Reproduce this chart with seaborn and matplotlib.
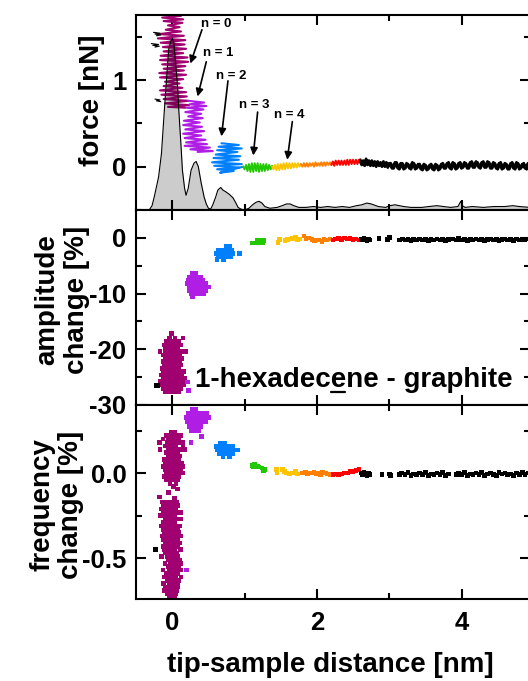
import numpy as np
import pandas as pd
import matplotlib
matplotlib.use('Agg')
import matplotlib.pyplot as plt
import seaborn as sns
from matplotlib.lines import Line2D
from matplotlib.ticker import FixedLocator

# ------------------------------------------------------------------ data
# force curve pieces (distance nm, force nN) – noisy traces
force_n0 = [(-0.10,1.76),(0.12,1.74),(-0.14,1.72),(0.15,1.70),(-0.12,1.68),(0.14,1.66),(-0.06,1.63),(0.10,1.61),
            (-0.09,1.58),(0.12,1.56),(-0.18,1.53),(0.16,1.51),(-0.20,1.48),(0.18,1.46),(-0.16,1.43),(0.17,1.41),
            (-0.13,1.38),(0.19,1.36),(-0.12,1.33),(0.15,1.31),(-0.16,1.28),(0.21,1.26),(-0.17,1.23),(0.22,1.21),
            (-0.14,1.18),(0.18,1.16),(-0.12,1.13),(0.16,1.11),(-0.18,1.08),(0.19,1.06),(-0.17,1.03),(0.15,1.01),
            (-0.10,0.98),(0.10,0.96),(-0.12,0.93),(0.14,0.91),(-0.17,0.88),(0.19,0.86),(-0.15,0.83),(0.20,0.81),
            (-0.12,0.78),(0.22,0.76),(-0.10,0.73),(0.23,0.71),(-0.06,0.69),(0.18,0.68)]
force_n1 = [(0.22,0.76),(0.44,0.74),(0.24,0.72),(0.47,0.70),(0.20,0.68),(0.43,0.66),(0.18,0.63),(0.40,0.61),
            (0.22,0.58),(0.42,0.56),(0.16,0.53),(0.38,0.51),(0.15,0.48),(0.41,0.46),(0.18,0.43),(0.44,0.41),
            (0.15,0.38),(0.40,0.36),(0.17,0.33),(0.46,0.31),(0.19,0.28),(0.48,0.26),(0.17,0.24),(0.52,0.22),
            (0.25,0.20),(0.56,0.18),(0.35,0.17)]
force_n2 = [(0.68,0.27),(0.92,0.25),(0.64,0.23),(0.96,0.21),(0.62,0.19),(0.90,0.17),(0.60,0.14),(0.94,0.12),
            (0.57,0.10),(0.92,0.08),(0.55,0.05),(0.96,0.03),(0.58,0.01),(0.92,-0.01),(0.62,-0.03),(0.85,-0.05),
            (0.66,-0.07),(0.98,0.00)]
force_n3 = [(0.98,0.00),(1.00,-0.03),(1.02,0.02),(1.04,-0.05),(1.06,0.03),(1.08,-0.06),(1.10,0.04),(1.12,-0.06),
            (1.14,0.04),(1.16,-0.05),(1.18,0.04),(1.20,-0.06),(1.22,0.03),(1.24,-0.05),(1.26,0.03),(1.28,-0.05),
            (1.30,0.03),(1.32,-0.04),(1.34,0.02),(1.36,-0.03),(1.38,0.01)]
force_n4 = [(1.38,0.00),(1.40,-0.03),(1.42,0.02),(1.44,-0.04),(1.46,0.03),(1.48,-0.04),(1.50,0.03),(1.52,-0.03),
            (1.54,0.04),(1.56,-0.03),(1.58,0.04),(1.60,-0.02),(1.62,0.04),(1.64,-0.02),(1.66,0.04),(1.68,-0.01),
            (1.70,0.04),(1.72,-0.01),(1.74,0.04),(1.76,0.00),(1.78,0.03)]
force_n5 = [(1.78,0.03),(1.80,0.00),(1.82,0.04),(1.84,0.00),(1.86,0.04),(1.88,0.00),(1.90,0.04),(1.92,0.01),
            (1.94,0.04),(1.96,0.00),(1.98,0.05),(2.00,0.01),(2.02,0.04),(2.04,0.01),(2.06,0.05),(2.08,0.01),
            (2.10,0.05),(2.12,0.01),(2.14,0.05),(2.16,0.02),(2.18,0.05),(2.20,0.02)]
force_n6 = [(2.20,0.02),(2.22,0.06),(2.24,0.01),(2.26,0.07),(2.28,0.02),(2.30,0.07),(2.32,0.02),(2.34,0.07),
            (2.36,0.02),(2.38,0.07),(2.40,0.02),(2.42,0.08),(2.44,0.02),(2.46,0.08),(2.48,0.03),(2.50,0.08),
            (2.52,0.03),(2.54,0.08),(2.56,0.03),(2.58,0.08),(2.60,0.04)]
force_far = [(2.60,0.08),(2.62,0.02),(2.64,0.07),(2.66,0.01),(2.68,0.09),(2.70,0.02),(2.72,0.07),(2.74,0.01),
             (2.76,0.07),(2.78,0.01),(2.80,0.06),(2.82,0.00),(2.84,0.06),(2.86,0.01),(2.88,0.05),(2.90,0.00),
             (2.92,0.06),(2.94,0.00),(2.96,0.05),(2.98,-0.01),(3.00,0.04),(3.04,-0.02),(3.08,0.05),(3.12,-0.02),
             (3.16,0.04),(3.20,-0.03),(3.24,0.04),(3.28,-0.02),(3.32,0.05),(3.36,-0.03),(3.40,0.03),(3.44,-0.03),
             (3.48,0.03),(3.52,-0.04),(3.56,0.02),(3.60,-0.03),(3.64,0.03),(3.68,-0.04),(3.72,0.03),(3.76,-0.02),
             (3.80,0.04),(3.84,-0.02),(3.88,0.05),(3.92,-0.03),(3.96,0.04),(4.00,-0.02),(4.04,0.05),(4.08,-0.02),
             (4.12,0.05),(4.16,-0.01),(4.20,0.06),(4.24,-0.01),(4.28,0.05),(4.32,-0.01),(4.36,0.06),(4.40,-0.02),
             (4.44,0.05),(4.48,-0.02),(4.52,0.04),(4.56,-0.03),(4.60,0.04),(4.64,-0.03),(4.68,0.04),(4.72,-0.02),
             (4.76,0.05),(4.80,-0.03),(4.84,0.03),(4.88,-0.02),(4.92,0.04)]
force_far_b = [(3.02,0.04),(3.06,-0.02),(3.10,0.05),(3.14,-0.03),(3.18,0.04),(3.22,-0.02),(3.26,0.03),(3.30,-0.03),
               (3.34,0.04),(3.38,-0.02),(3.42,0.03),(3.46,-0.04),(3.50,0.02),(3.54,-0.03),(3.58,0.03),(3.62,-0.04),
               (3.66,0.02),(3.70,-0.03),(3.74,0.04),(3.78,-0.02),(3.82,0.05),(3.86,-0.03),(3.90,0.04),(3.94,-0.02),
               (3.98,0.05),(4.02,-0.01),(4.06,0.04),(4.10,-0.02),(4.14,0.06),(4.18,-0.01),(4.22,0.05),(4.26,-0.02),
               (4.30,0.06),(4.34,-0.01),(4.38,0.05),(4.42,-0.02),(4.46,0.04),(4.50,-0.03),(4.54,0.05),(4.58,-0.02),
               (4.62,0.03),(4.66,-0.03),(4.70,0.05),(4.74,-0.03),(4.78,0.04),(4.82,-0.02),(4.86,0.04),(4.90,-0.03),
               (4.94,0.03)]
force_left_bits = [[(-0.26,1.55),(-0.17,1.54),(-0.24,1.53),(-0.16,1.52),(-0.22,1.51)],
                   [(-0.29,1.42),(-0.19,1.41),(-0.27,1.40),(-0.18,1.39),(-0.24,1.38)],
                   [(-0.24,0.78),(-0.17,0.77),(-0.22,0.76),(-0.16,0.75)]]

# force-distribution envelope (grey, in force-axis units)
dist_curve = [(-0.50,-0.50),(-0.32,-0.50),(-0.28,-0.45),(-0.25,-0.35),(-0.19,-0.12),(-0.15,0.15),(-0.11,0.65),
              (-0.08,1.00),(-0.05,1.35),(-0.02,1.45),(0.00,1.48),(0.02,1.44),(0.04,1.25),(0.07,0.95),(0.09,0.65),
              (0.12,0.25),(0.14,-0.04),(0.17,-0.25),(0.19,-0.33),(0.22,-0.25),(0.26,-0.04),(0.30,0.04),(0.33,0.06),
              (0.36,0.00),(0.40,-0.19),(0.44,-0.35),(0.47,-0.43),(0.50,-0.48),(0.53,-0.49),(0.56,-0.44),(0.60,-0.35),
              (0.63,-0.27),(0.67,-0.24),(0.70,-0.27),(0.74,-0.29),(0.79,-0.32),(0.84,-0.36),(0.88,-0.42),(0.91,-0.47),
              (0.95,-0.49),(1.00,-0.50),(1.06,-0.48),(1.11,-0.44),(1.16,-0.41),(1.20,-0.40),(1.24,-0.42),(1.28,-0.46),
              (1.35,-0.48),(1.45,-0.47),(1.52,-0.45),(1.58,-0.43),(1.63,-0.43),(1.68,-0.45),(1.75,-0.47),(1.85,-0.47),
              (1.95,-0.46),(2.05,-0.47),(2.15,-0.46),(2.25,-0.47),(2.35,-0.46),(2.45,-0.47),(2.55,-0.45),(2.62,-0.44),
              (2.69,-0.42),(2.75,-0.43),(2.85,-0.46),(2.95,-0.47),(3.01,-0.45),(3.08,-0.44),(3.20,-0.46),(3.30,-0.47),
              (3.45,-0.47),(3.55,-0.46),(3.66,-0.45),(3.75,-0.46),(3.85,-0.47),(3.95,-0.46),(3.99,-0.40),(4.01,-0.45),
              (4.05,-0.47),(4.15,-0.46),(4.30,-0.47),(4.45,-0.46),(4.60,-0.46),(4.71,-0.45),(4.80,-0.46),(4.95,-0.47)]

# amplitude change [%] clouds; rows of (y, [x...])
amp_n0 = [(-17.2,[-0.01]),(-18.0,[-0.04,0.04,0.15]),(-18.6,[-0.08,-0.02,0.03,0.09]),
          (-19.2,[-0.11,-0.05,0.01,0.06,0.12]),(-19.8,[-0.09,-0.03,0.03,0.08]),
          (-20.4,[-0.17,-0.10,-0.04,0.02,0.07,0.11,0.18]),(-21.0,[-0.12,-0.06,0.00,0.05,0.10]),
          (-21.6,[-0.10,-0.04,0.02,0.08,0.13]),(-22.2,[-0.13,-0.07,-0.01,0.05,0.10]),
          (-22.8,[-0.11,-0.05,0.01,0.07,0.12]),(-23.4,[-0.14,-0.08,-0.02,0.04,0.09]),
          (-24.0,[-0.12,-0.06,0.00,0.06,0.11,0.16]),(-24.6,[-0.15,-0.09,-0.03,0.03,0.08,0.13]),
          (-25.2,[-0.13,-0.07,-0.01,0.05,0.10,0.17]),(-25.8,[-0.16,-0.10,-0.04,0.02,0.08,0.14]),
          (-26.4,[-0.14,-0.08,-0.02,0.04,0.10,0.16]),(-27.0,[-0.12,-0.06,0.00,0.06,0.12]),
          (-27.6,[-0.09,-0.03,0.03,0.09])]
amp_n1 = [(-6.4,[0.28,0.33]),(-7.0,[0.24,0.29,0.35,0.39]),(-7.6,[0.22,0.27,0.32,0.37,0.42]),
          (-8.2,[0.21,0.26,0.31,0.36,0.41,0.46]),(-8.8,[0.23,0.28,0.33,0.38,0.44,0.50]),
          (-9.4,[0.24,0.29,0.34,0.40,0.46]),(-10.0,[0.26,0.31,0.38,0.44]),(-10.5,[0.28]),
          (-25.9,[0.21]),(-27.4,[0.22])]
amp_n2 = [(-1.6,[0.74,0.80]),(-2.2,[0.64,0.70,0.76,0.82]),(-2.8,[0.61,0.67,0.73,0.79,0.84,0.93]),
          (-3.4,[0.63,0.69,0.75,0.81]),(-3.9,[0.62,0.71])]
amp_n3 = [(-0.5,[1.18,1.23,1.27]),(-0.9,[1.10,1.15,1.20,1.25])]
amp_n4 = [(-0.8,[1.46]),(-0.3,[1.48,1.59,1.73]),(-0.5,[1.56]),(-0.2,[1.63,1.76]),(-0.1,[1.66]),(0.1,[1.70])]
amp_n5 = [(0.3,[1.82]),(-0.1,[1.85]),(0.0,[1.88]),(-0.3,[1.93,2.10]),(-0.5,[1.97]),(-0.4,[2.02,2.14]),
          (-0.6,[2.07]),(-0.2,[2.18])]
amp_n6 = [(-0.4,[2.22,2.58]),(-0.2,[2.26,2.42,2.54]),(-0.1,[2.30,2.46]),(-0.3,[2.34,2.50]),(0.0,[2.38])]
amp_far = [(-0.2,[2.61,2.71,3.18,3.42,3.66,3.88,4.20,4.40,4.60,4.76,4.92]),
           (-0.4,[2.63,2.73,3.14,3.22,3.38,3.46,3.62,3.70,3.93,4.00,4.16,4.24,4.44,4.64,4.80,4.88]),
           (-0.1,[2.65,2.86,3.96]),(-0.3,[2.67,2.98,3.26,3.34,3.50,3.58,3.74,3.82,4.04,4.12,4.28,4.36,4.48,4.56,4.68,4.84]),
           (-0.5,[2.69,3.30,3.54,3.78,4.08,4.32,4.52,4.72]),(0.1,[3.00]),(-26.5,[-0.22,-0.20])]

# frequency change [%] clouds; rows of (y, [x...])
frq_n0 = [(0.24,[-0.02,0.04]),(0.22,[-0.08,-0.03,0.02,0.07,0.11]),(0.20,[-0.13,-0.06,-0.01,0.04,0.09]),
          (0.18,[-0.18,-0.07,-0.02,0.03,0.08,0.14]),(0.16,[-0.10,-0.05,0.00,0.05,0.15]),
          (0.14,[-0.17,-0.06,-0.01,0.04,0.10,0.17]),(0.12,[-0.08,-0.03,0.02,0.07]),
          (0.10,[-0.05,0.00,0.05,0.10]),(0.08,[-0.11,-0.06,-0.01,0.04,0.09]),
          (0.06,[-0.09,-0.04,0.01,0.06,0.13]),(0.04,[-0.12,-0.07,-0.02,0.03,0.08,0.14]),
          (0.02,[-0.10,-0.05,0.00,0.05,0.11]),(0.00,[-0.08,-0.03,0.02,0.07,0.14]),
          (-0.02,[-0.11,-0.06,-0.01,0.04,0.09]),(-0.04,[-0.08,-0.02,0.03,0.07]),
          (-0.06,[-0.03,0.05]),(-0.08,[0.02]),(-0.094,[0.07]),(-0.114,[-0.05]),(-0.14,[-0.18]),(-0.15,[0.03]),
          (-0.17,[-0.14,-0.09,-0.04,0.01,0.06]),(-0.19,[-0.12,-0.07,-0.02,0.03,0.08]),
          (-0.21,[-0.15,-0.10,-0.05,0.00,0.05]),(-0.23,[-0.13,-0.08,-0.03,0.02,0.07,0.11]),
          (-0.25,[-0.16,-0.11,-0.06,-0.01,0.04]),(-0.27,[-0.09,-0.04,0.01,0.06,0.12]),
          (-0.29,[-0.12,-0.07,-0.02,0.03]),(-0.31,[-0.15,-0.10,-0.05,0.00,0.05,0.10]),
          (-0.33,[-0.13,-0.08,-0.03,0.02,0.07]),(-0.35,[-0.11,-0.06,-0.01,0.04,0.09]),
          (-0.37,[-0.14,-0.09,-0.04,0.01,0.06,0.12]),(-0.39,[-0.12,-0.07,-0.02,0.03,0.08]),
          (-0.41,[-0.10,-0.05,0.00,0.05,0.10]),(-0.43,[-0.13,-0.08,-0.03,0.02,0.07]),
          (-0.45,[-0.11,-0.06,-0.01,0.04,0.11]),(-0.47,[-0.09,-0.04,0.01,0.06]),
          (-0.49,[-0.15,-0.07,-0.02,0.03,0.08]),(-0.51,[-0.05,0.00,0.05,0.10]),
          (-0.53,[-0.10,-0.03,0.02,0.07,0.12]),(-0.55,[-0.06,-0.01,0.04,0.09]),
          (-0.57,[-0.13,-0.04,0.01,0.06,0.11]),(-0.59,[-0.08,-0.02,0.03,0.08]),
          (-0.61,[-0.11,-0.05,0.00,0.05,0.12]),(-0.63,[-0.07,-0.01,0.04,0.09]),
          (-0.65,[-0.12,-0.04,0.01,0.07]),(-0.67,[-0.09,-0.03,0.03,0.08]),
          (-0.69,[-0.11,-0.05,0.02,0.06]),(-0.71,[-0.07,0.00,0.05]),(-0.73,[-0.04,0.03])]
frq_n1 = [(0.375,[0.28,0.33]),(0.35,[0.22,0.27,0.32,0.37,0.42,0.47]),(0.325,[0.20,0.25,0.30,0.35,0.40,0.45,0.50]),
          (0.30,[0.21,0.26,0.31,0.36,0.41,0.46]),(0.275,[0.24,0.29,0.34,0.39]),(0.25,[0.26,0.31,0.36]),
          (0.215,[0.40]),(0.18,[0.26]),(-0.57,[0.20])]
frq_n2 = [(0.175,[0.66,0.72]),(0.155,[0.61,0.67,0.73,0.79,0.84]),(0.135,[0.62,0.68,0.74,0.80,0.86,0.91]),
          (0.115,[0.65,0.71,0.77,0.83]),(0.095,[0.70,0.79])]
frq_n3 = [(0.045,[1.10]),(0.05,[1.14]),(0.04,[1.16,1.18]),(0.035,[1.12,1.20]),(0.03,[1.24]),(0.02,[1.28]),(0.015,[1.26])]
frq_n4 = [(0.02,[1.44,1.52]),(0.0,[1.45,1.58,1.66]),(0.01,[1.55,1.70]),(-0.005,[1.62,1.73])]
frq_n5 = [(0.0,[1.80,1.90,2.02,2.12]),(0.005,[1.84,1.96,2.08]),(-0.005,[1.87,1.99,2.15]),(-0.01,[2.05,2.18])]
frq_n6 = [(-0.01,[2.22,2.30]),(-0.005,[2.26,2.34]),(0.0,[2.38,2.42]),(0.01,[2.46,2.50]),(0.015,[2.54]),(0.02,[2.58])]
frq_far = [(0.0,[2.61,2.71,3.17,3.42,3.66,3.96,4.20,4.40,4.60,4.76,4.92]),
           (-0.01,[2.63,2.73,2.90,3.14,3.22,3.38,3.46,3.62,3.70,3.93,4.00,4.16,4.24,4.44,4.64,4.80,4.88]),
           (0.005,[2.65,3.26,3.50,3.74,4.04,4.28,4.52,4.84]),
           (-0.005,[2.67,3.00,3.34,3.58,3.82,4.12,4.36,4.56,4.68]),
           (-0.015,[2.69,3.02,3.30,3.54,3.78,4.08,4.32,4.48,4.72]),(-0.45,[-0.24,-0.23])]

n_labels = ['n = 0', 'n = 1', 'n = 2', 'n = 3', 'n = 4']
n_label_pos = [(0.61, 1.65), (0.64, 1.31), (0.81, 1.05), (1.13, 0.71), (1.62, 0.60)]
n_arrow_from = [(0.41, 1.58), (0.47, 1.21), (0.77, 0.99), (1.18, 0.63), (1.66, 0.52)]
n_arrow_to = [(0.25, 1.19), (0.35, 0.81), (0.68, 0.35), (1.12, 0.13), (1.59, 0.08)]

x_ticks = [0, 2, 4]
force_ticks = [0, 1]
amp_ticks = [0, -10, -20, -30]
frq_ticks = [0.0, -0.5]
frq_tick_labels = ['0.0', '-0.5']

colors = {'n0': '#A00070', 'n1': '#B01EE6', 'n2': '#0080FF', 'n3': '#22C800',
          'n4': '#FFC400', 'n5': '#FF8000', 'n6': '#FF0000', 'far': '#000000'}

# ------------------------------------------------------------------ style
sns.set_style('ticks')
plt.rcParams['font.family'] = ['Liberation Sans', 'DejaVu Sans']
plt.rcParams['font.weight'] = 'bold'
plt.rcParams['axes.unicode_minus'] = False
for k in ('text.color', 'axes.labelcolor', 'xtick.color', 'ytick.color', 'axes.edgecolor'):
    plt.rcParams[k] = 'black'

W, H = 528, 681
fig = plt.figure(figsize=(W / 100, H / 100), dpi=100)


def px_axes(l, t, r, b):
    return fig.add_axes([l / W, 1 - b / H, (r - l) / W, (b - t) / H])


ax1 = px_axes(136, 15, 530, 210)
ax2 = px_axes(136, 210, 530, 405)
ax3 = px_axes(136, 405, 530, 599)


def rows_to_df(rows, key):
    xs, ys = [], []
    for y, xl in rows:
        for x in xl:
            xs.append(x)
            ys.append(y)
    return pd.DataFrame({'x': xs, 'y': ys, 'g': key})


# ---- panel 1: force
line_w = {'n0': 1.5, 'n1': 1.5, 'n2': 1.5, 'n3': 1.4, 'n4': 1.4, 'n5': 1.4, 'n6': 1.4, 'far': 2.0}
for key, seg in [('n0', force_n0), ('n1', force_n1), ('n2', force_n2), ('n3', force_n3),
                 ('n4', force_n4), ('n5', force_n5), ('n6', force_n6), ('far', force_far),
                 ('far', force_far_b)]:
    d = pd.DataFrame(seg, columns=['x', 'y'])
    sns.lineplot(data=d, x='x', y='y', sort=False, estimator=None, color=colors[key], lw=line_w[key], ax=ax1)
for seg in force_left_bits:
    d = pd.DataFrame(seg, columns=['x', 'y'])
    sns.lineplot(data=d, x='x', y='y', sort=False, estimator=None, color='k', lw=0.8, ax=ax1)

dc = pd.DataFrame(dist_curve, columns=['x', 'y'])
ax1.fill_between(dc['x'], -0.5, dc['y'], color='k', alpha=0.2, lw=0, zorder=3)
sns.lineplot(data=dc, x='x', y='y', sort=False, estimator=None, color='k', lw=0.8, ax=ax1, zorder=4)

for lab, lp, a0, a1 in zip(n_labels, n_label_pos, n_arrow_from, n_arrow_to):
    ax1.text(lp[0], lp[1], lab, fontsize=9.5, fontweight='bold', ha='center', va='center', zorder=6)
    ax1.annotate('', xy=a1, xytext=a0,
                 arrowprops=dict(arrowstyle='-|>', color='k', lw=1.2, mutation_scale=11,
                                 shrinkA=0, shrinkB=0), zorder=6)

# ---- panel 2 & 3: scatter clouds
amp_df = pd.concat([rows_to_df(r, k) for k, r in [('n0', amp_n0), ('n1', amp_n1), ('n2', amp_n2), ('n3', amp_n3),
                                                  ('n4', amp_n4), ('n5', amp_n5), ('n6', amp_n6), ('far', amp_far)]])
frq_df = pd.concat([rows_to_df(r, k) for k, r in [('n0', frq_n0), ('n1', frq_n1), ('n2', frq_n2), ('n3', frq_n3),
                                                  ('n4', frq_n4), ('n5', frq_n5), ('n6', frq_n6), ('far', frq_far)]])
sns.scatterplot(data=amp_df, x='x', y='y', hue='g', palette=colors, marker='s', s=11, linewidth=0,
                legend=False, ax=ax2)
sns.scatterplot(data=frq_df, x='x', y='y', hue='g', palette=colors, marker='s', s=11, linewidth=0,
                legend=False, ax=ax3)

# ---- axes styling
for ax in (ax1, ax2, ax3):
    ax.set_xlim(-0.502, 4.947)
    ax.set_xlabel('')
    ax.set_ylabel('')
    ax.xaxis.set_major_locator(FixedLocator(x_ticks))
    ax.xaxis.set_minor_locator(FixedLocator([1, 3]))
    ax.tick_params(which='both', direction='in', top=True, right=True, width=1.5,
                   labelsize=18.5, pad=7, colors='k')
    ax.tick_params(which='major', length=7)
    ax.tick_params(which='minor', length=4)
    for sp in ax.spines.values():
        sp.set_linewidth(1.5)
        sp.set_color('k')
        sp.set_visible(True)
    ax.set_facecolor('white')

ax1.set_ylim(-0.5, 1.75)
ax1.yaxis.set_major_locator(FixedLocator(force_ticks))
ax1.yaxis.set_minor_locator(FixedLocator([-0.5, 0.5, 1.5]))
ax1.set_yticklabels([str(t) for t in force_ticks])

ax2.set_ylim(-30, 5)
ax2.yaxis.set_major_locator(FixedLocator(amp_ticks))
ax2.yaxis.set_minor_locator(FixedLocator([-5, -15, -25]))
ax2.set_yticklabels([str(t) for t in amp_ticks])

ax3.set_ylim(-0.74, 0.40)
ax3.yaxis.set_major_locator(FixedLocator(frq_ticks))
ax3.yaxis.set_minor_locator(FixedLocator([0.25, -0.25]))
ax3.set_yticklabels(frq_tick_labels)

ax1.tick_params(labelbottom=False)
ax2.tick_params(labelbottom=False)
ax3.set_xticklabels([str(t) for t in x_ticks])
ax3.tick_params(axis='x', pad=9)

for ax in (ax1, ax2, ax3):
    for lab in ax.get_xticklabels() + ax.get_yticklabels():
        lab.set_fontweight('bold')
        lab.set_color('black')

# ---- labels
fig.text(92 / W, 1 - 100 / H, 'force [nN]', rotation=90, ha='center', va='center', fontsize=20,
         fontweight='bold', color='black')
fig.text(62 / W, 1 - 300 / H, 'amplitude\nchange [%]', rotation=90, ha='center', va='center',
         fontsize=20, fontweight='bold', linespacing=1.15, color='black')
fig.text(57 / W, 1 - 505 / H, 'frequency\nchange [%]', rotation=90, ha='center', va='center',
         fontsize=20, fontweight='bold', linespacing=1.15, color='black')
fig.text(330 / W, 1 - 665 / H, 'tip-sample distance [nm]', ha='center', va='center', fontsize=20,
         fontweight='bold', color='black')

# annotation with underlined "e"
label_txt = '1-hexadecene - graphite'
tx, ty = 0.31, -26.8
t = ax2.text(tx, ty, label_txt, fontsize=20, fontweight='bold', ha='left', va='baseline', zorder=7,
             color='black')
fig.canvas.draw()
r = fig.canvas.get_renderer()
tmp1 = ax2.text(tx, ty, '1-hexadec', fontsize=20, fontweight='bold', ha='left', va='baseline')
tmp2 = ax2.text(tx, ty, '1-hexadece', fontsize=20, fontweight='bold', ha='left', va='baseline')
b1 = tmp1.get_window_extent(r)
b2 = tmp2.get_window_extent(r)
tmp1.remove()
tmp2.remove()
base_disp = ax2.transData.transform((tx, ty))
uy = base_disp[1] - 4.5
p0 = fig.transFigure.inverted().transform((b1.x1 + 0.5, uy))
p1 = fig.transFigure.inverted().transform((b2.x1 - 0.5, uy))
fig.add_artist(Line2D([p0[0], p1[0]], [p0[1], p1[1]], color='k', lw=1.6, transform=fig.transFigure))

fig.savefig('out.png', dpi=100, facecolor='white')
